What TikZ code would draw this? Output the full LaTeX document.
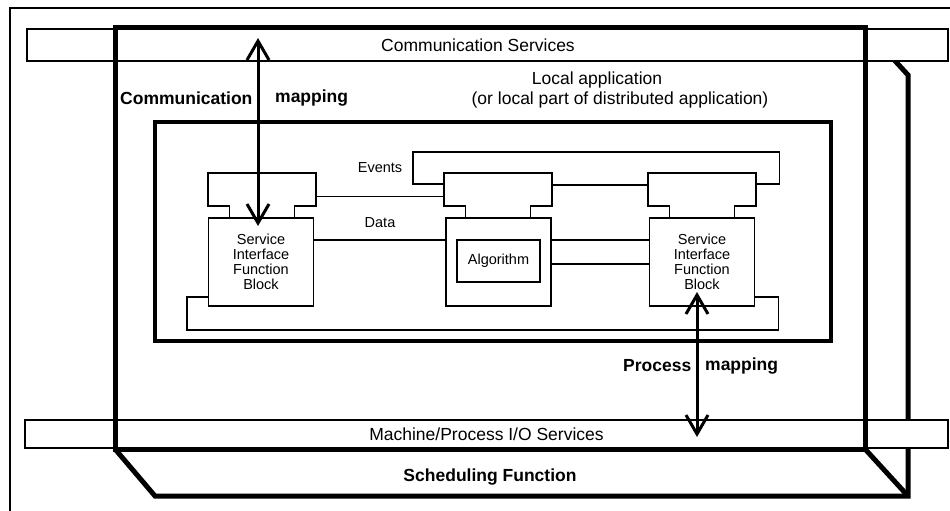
\documentclass[tikz,border=0pt]{standalone}
\usepackage{fontspec}
\setmainfont{Liberation Sans}
\usetikzlibrary{arrows.meta,calc}

\newcommand{\bigtext}{\fontsize{17.5}{20}\selectfont}
\newcommand{\smalltext}{\fontsize{14.5}{15}\selectfont}

\begin{document}
\begin{tikzpicture}[x=1pt,y=-1pt,
  thinline/.style={line width=1.1pt},
  frontframe/.style={line width=5pt, line join=miter},
  backframe/.style={line width=5pt, line join=miter},
  appframe/.style={line width=3.5pt, line join=miter},
  bar/.style={draw, fill=white, line width=1.1pt, inner sep=0pt, minimum height=#1},
  fbhead/.style={draw, line width=1.1pt, inner sep=0pt, minimum width=108pt, minimum height=33pt},
  fbneck/.style={fill=white, inner sep=0pt, minimum width=64pt, minimum height=13.2pt},
  fbbody/.style={draw, fill=white, line width=1.1pt, inner sep=0pt, minimum width=105pt,
                 minimum height=88pt, align=center, font=\smalltext},
  label/.style={inner sep=0pt, font=\bigtext},
  boldlabel/.style={inner sep=0pt, font=\bigtext\bfseries},
  smalllabel/.style={inner sep=0pt, font=\smalltext},
  mapping/.style={line width=3pt, {Straight Barb[length=19pt,width=22pt]}-{Straight Barb[length=19pt,width=22pt]}}
]
\useasboundingbox (0,0) rectangle (950,511);

% outer border
\draw[thinline] (950,8) -- (10,8) -- (10,511);

% scheduling function: back face of the resource box
\coordinate (frontNW) at (115,28);
\coordinate (frontNE) at (865,28);
\coordinate (frontSE) at (865,449);
\coordinate (frontSW) at (115,449);
\coordinate (backNE) at (908,75);
\coordinate (backSE) at (908,496);
\coordinate (backSW) at (155,496);
\draw[backframe] (frontNE) -- (backNE) -- (backSE) -- (backSW) -- (frontSW);
\draw[backframe] (frontSE) -- (backSE);
\node[boldlabel] (sched) at (490,477) {Scheduling Function};

% service bars
\node[bar=32pt, minimum width=921pt] (comm) at (487.5,45) {};
\node[label] (commtext) at (478,45) {Communication Services};
\node[bar=28pt, minimum width=923pt, font=\bigtext] (mpio) at (486.5,434) {Machine/Process I/O Services};

% resource (front face)
\draw[frontframe] (frontNW) rectangle (frontSE);

% local application
\node[label] (loc1) at (597,80) {Local application};
\node[label] (loc2) at (620,100) {(or local part of distributed application)};
\draw[appframe] (155,122) rectangle (831,341);

% function blocks: event header, neck, body
\foreach \nm/\cx in {L/262, M/498, R/702}{
  \node[fbhead] (hd\nm) at (\cx,189.5) {};
  \node[fbneck] (nk\nm) at (\cx,212) {};
  \draw[thinline] (nk\nm.north west) -- (nk\nm.south west)
                  (nk\nm.north east) -- (nk\nm.south east);
}
\node[fbbody] (bdL) at (261,262) {Service\\Interface\\Function\\Block};
\node[fbbody] (bdM) at (498.5,262) {};
\node[fbbody] (bdR) at (702,262) {Service\\Interface\\Function\\Block};
\node[draw, thinline, inner sep=0pt, minimum width=83pt, minimum height=42pt,
      font=\smalltext] (algo) at (498.5,261) {Algorithm};

% event connections
\draw[thinline] ([yshift=-7pt]hdL.east) -- ([yshift=-7pt]hdM.west);
\draw[thinline] ([yshift=4.5pt]hdM.east) -- ([yshift=4.5pt]hdR.west);
\draw[thinline] ([yshift=5.5pt]hdR.east) -- ++(23,0) |- (413,152) |- ([yshift=5.5pt]hdM.west);
\node[smalllabel] (evlabel) at (380,168) {Events};

% data connections
\draw[thinline] ([yshift=22pt]bdL.east) -- ([yshift=22pt]bdM.west);
\draw[thinline] ([yshift=22pt]bdM.east) -- ([yshift=22pt]bdR.west);
\draw[thinline] ([yshift=-2pt]bdM.east) -- ([yshift=-2pt]bdR.west);
\draw[thinline] ([yshift=-35pt]bdR.east) -- ++(23,0) |- (187,330) |- ([yshift=-35pt]bdL.west);
\node[smalllabel] (dtlabel) at (380,223) {Data};

% communication mapping
\coordinate (cmTop) at (258,38);
\coordinate (cmBot) at (258,226);
\draw[mapping] (cmTop) -- (cmBot);
\node[boldlabel, anchor=west] (cm1) at (120,98) {Communication};
\node[boldlabel, anchor=west] (cm2) at (275,98) {mapping};

% process mapping
\coordinate (pmTop) at (697,292);
\coordinate (pmBot) at (697,437);
\draw[mapping] (pmTop) -- (pmBot);
\node[boldlabel, anchor=west] (pm1) at (623,366) {Process};
\node[boldlabel, anchor=west] (pm2) at (705,366) {mapping};
\end{tikzpicture}
\end{document}
